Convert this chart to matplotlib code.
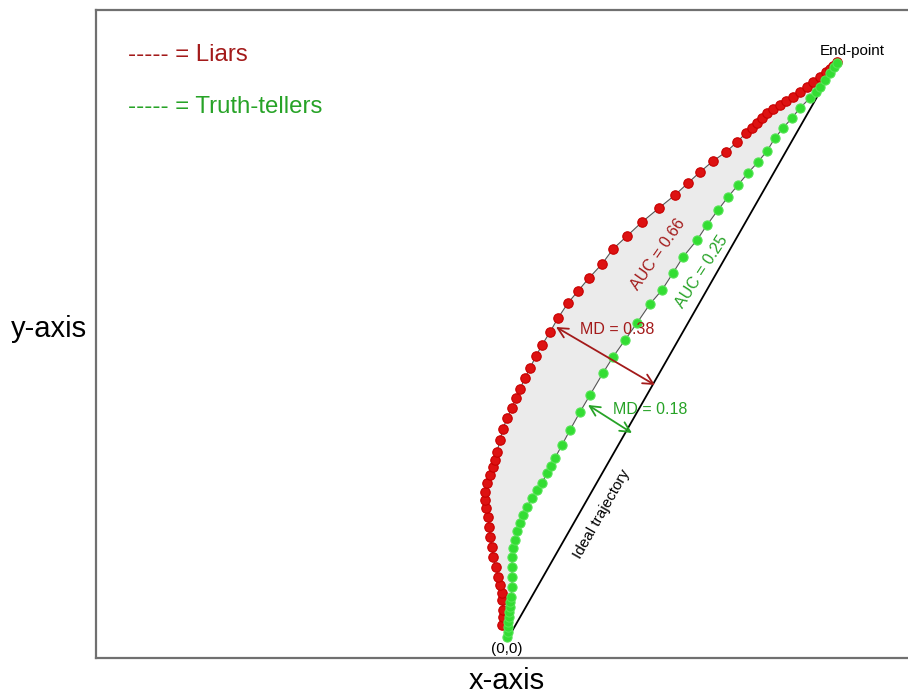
#
# Mouse trajectories: liars vs truth-tellers (AUC / MD illustration)
#
import numpy as np
import matplotlib
matplotlib.use('agg')
import matplotlib.pyplot as plt

plt.rcParams['font.family'] = ['Liberation Sans', 'DejaVu Sans']

# trajectory coordinates, origin at start point (0,0)
liars_x = [-5, -4, -4, -5, -5, -7, -9, -11, -14, -15, -17, -18, -19, -21, -22, -22,
           -20, -17, -14, -12, -10, -7, -4, 0, 5, 9, 13, 18, 23, 29, 35, 43, 51, 61,
           71, 82, 95, 106, 120, 135, 152, 168, 181, 193, 206, 219, 230, 239, 245,
           250, 255, 260, 266, 273, 279, 286, 293, 300, 306, 313, 319, 323, 326, 330]
liars_y = [15, 23, 30, 40, 47, 55, 63, 73, 83, 93, 103, 113, 123, 132, 140, 148,
           157, 165, 173, 180, 188, 200, 211, 222, 232, 242, 251, 262, 272, 284, 295,
           308, 322, 337, 349, 362, 376, 391, 404, 418, 432, 445, 457, 468, 479, 488,
           498, 507, 512, 517, 522, 527, 531, 535, 539, 543, 548, 553, 558, 563, 568,
           571, 574, 578]

truth_x = [0, 1, 1, 1, 2, 2, 3, 3, 4, 5, 5, 5, 5, 6, 8, 10, 13, 16, 20, 25, 30, 35,
           40, 44, 48, 55, 63, 73, 83, 96, 106, 118, 130, 143, 155, 166, 176, 190,
           200, 211, 221, 231, 241, 251, 260, 268, 276, 285, 293, 303, 309, 313, 318,
           323, 327, 330]
truth_y = [3, 8, 13, 18, 23, 28, 33, 38, 43, 53, 63, 73, 83, 92, 100, 109, 117, 125,
           133, 142, 150, 157, 167, 174, 182, 195, 210, 228, 245, 267, 283, 300, 317,
           336, 350, 367, 383, 400, 415, 430, 443, 455, 467, 478, 489, 502, 512, 522,
           532, 542, 548, 553, 560, 567, 573, 577]

ideal_x = [0, 330]
ideal_y = [0, 578]

dark_red = '#a31a1a'
dark_green = '#27a327'

fig = plt.figure(figsize=(9.08, 6.95), dpi=100)
ax = fig.add_axes([96 / 908, 1 - 658 / 695, 812 / 908, 648 / 695])
ax.set_xlim(-411, 401)
ax.set_ylim(-18, 630)
ax.set_xticks([])
ax.set_yticks([])
for side in ['left', 'top', 'bottom']:
    ax.spines[side].set_color('#707070')
    ax.spines[side].set_linewidth(1.6)
ax.spines['right'].set_visible(False)

# shaded area between the two curves
poly_x = np.concatenate([liars_x, truth_x[::-1]])
poly_y = np.concatenate([liars_y, truth_y[::-1]])
ax.fill(poly_x, poly_y, color='#ebebeb', lw=0, zorder=1)

ax.plot(ideal_x, ideal_y, color='black', lw=1.3, zorder=2)

ax.plot(liars_x, liars_y, '-o', color='#555555', lw=0.8, ms=6.8,
        mfc='#dd1111', mec='#c80000', mew=0.8, zorder=3)
ax.plot(truth_x, truth_y, '-o', color='#555555', lw=0.8, ms=6.6,
        mfc='#33dd33', mec='#55e455', mew=0.8, zorder=3)

# labels
ax.text(-379, 585, '----- = Liars', color=dark_red, fontsize=17.3, va='center')
ax.text(-379, 533, '----- = Truth-tellers', color=dark_green, fontsize=17.3, va='center')
ax.text(345, 589, 'End-point', fontsize=11, ha='center', va='center')
ax.text(0, -9, '(0,0)', fontsize=11, ha='center', va='center')
ax.text(95, 126, 'Ideal trajectory', fontsize=11, ha='center', va='center',
        rotation=60.3, rotation_mode='anchor')
ax.text(151, 386, 'AUC = 0.66', color=dark_red, fontsize=11.5, ha='center',
        va='center', rotation=55, rotation_mode='anchor')
ax.text(195, 368, 'AUC = 0.25', color=dark_green, fontsize=11.5, ha='center',
        va='center', rotation=57, rotation_mode='anchor')
ax.text(73, 310, 'MD = 0.38', color=dark_red, fontsize=11.5, va='center')
ax.text(106, 230, 'MD = 0.18', color=dark_green, fontsize=11.5, va='center')

ax.annotate('', xy=(49, 313), xytext=(148, 255),
            arrowprops=dict(arrowstyle='<->', color=dark_red, lw=1.3,
                            mutation_scale=18, shrinkA=0, shrinkB=0))
ax.annotate('', xy=(81, 235), xytext=(125, 207),
            arrowprops=dict(arrowstyle='<->', color=dark_green, lw=1.3,
                            mutation_scale=18, shrinkA=0, shrinkB=0))

fig.text(507 / 908, 1 - 681 / 695, 'x-axis', fontsize=21, ha='center', va='center')
fig.text(49 / 908, 1 - 329 / 695, 'y-axis', fontsize=21, ha='center', va='center')

plt.savefig('out.png', dpi=100)
plt.close()
